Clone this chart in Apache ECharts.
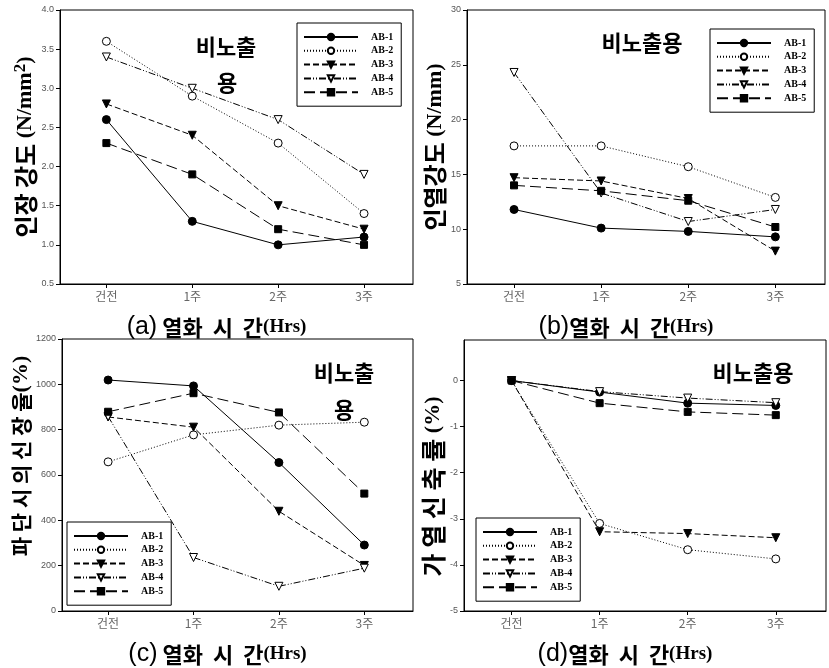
<!DOCTYPE html>
<html><head><meta charset="utf-8">
<script src="https://cdn.jsdelivr.net/npm/echarts@6/dist/echarts.min.js"></script>
<style>html,body{margin:0;padding:0;background:#fff}#c{width:829px;height:668px}</style>
</head><body><div id="c"></div>
<script>
const categories = ['건전', '1주', '2주', '3주'];
const seriesNames = ['AB-1', 'AB-2', 'AB-3', 'AB-4', 'AB-5'];
// (a) 인장 강도 (N/mm2)
const tensileStrength = [
  [2.6, 1.3, 1.0, 1.1],
  [3.6, 2.9, 2.3, 1.4],
  [2.8, 2.4, 1.5, 1.2],
  [3.4, 3.0, 2.6, 1.9],
  [2.3, 1.9, 1.2, 1.0]
];
// (b) 인열강도 (N/mm)
const tearStrength = [
  [11.8, 10.1, 9.8, 9.3],
  [17.6, 17.6, 15.7, 12.9],
  [14.7, 14.4, 12.8, 8.0],
  [24.3, 13.3, 10.7, 11.8],
  [14.0, 13.5, 12.6, 10.2]
];
// (c) 파단시의 신장율 (%)
const elongation = [
  [1019, 993, 655, 291],
  [658, 777, 820, 833],
  [856, 811, 440, 201],
  [858, 236, 109, 189],
  [879, 961, 876, 518]
];
// (d) 가열신축률 (%)
const shrinkage = [
  [0, -0.25, -0.49, -0.54],
  [0, -3.10, -3.67, -3.87],
  [0, -3.28, -3.32, -3.41],
  [0, -0.24, -0.38, -0.48],
  [0, -0.49, -0.68, -0.75]
];

const symbols = ['circle', 'circle', 'triangle', 'triangle', 'rect'];
const rotates = [0, 0, 180, 180, 0];
const filled = [true, false, true, false, true];
const dashes = ['solid', [1, 2], [6, 3], [7, 2, 1, 2, 1, 2], [11, 5]];

const grids = [
  {left: 60, top: 10, width: 353, height: 274},
  {left: 467, top: 10, width: 358, height: 274},
  {left: 62, top: 339, width: 351, height: 274},
  {left: 464, top: 340, width: 362, height: 274}
];

const tickFont = 'Liberation Sans, Arial, sans-serif';
const korFont = '"Noto Sans CJK KR", sans-serif';
const serif = '"Liberation Serif", serif';

function xAxis(i, label) {
  return {
    type: 'value', gridIndex: i, min: -0.54, max: 3.57,
    axisLine: {onZero: false, lineStyle: {color: '#000'}},
    axisTick: {customValues: [0, 1, 2, 3], length: 4, lineStyle: {color: '#000'}},
    axisLabel: {customValues: [0, 1, 2, 3], formatter: v => categories[Math.round(v)],
      color: '#666', fontSize: 12, fontFamily: korFont, margin: 6},
    splitLine: {show: false},
    name: label,
    nameLocation: 'middle', nameGap: 31,
    nameTextStyle: {padding: [0, 40, 0, 0], rich: {
      p: {fontFamily: tickFont, fontSize: 25, color: '#000'},
      k: {fontFamily: korFont, fontSize: 22, fontWeight: 'bold', color: '#000'},
      h: {fontFamily: serif, fontSize: 19, fontWeight: 'bold', color: '#000'}
    }}
  };
}

function yAxis(i, min, max, ticks, name, gap, fmt, pad) {
  return {
    type: 'value', gridIndex: i, min: min, max: max,
    axisLine: {show: true, onZero: false, lineStyle: {color: '#000'}},
    axisTick: {show: true, customValues: ticks, length: 4, lineStyle: {color: '#000'}},
    axisLabel: {customValues: ticks, formatter: fmt, color: '#555', fontSize: 9, fontFamily: tickFont, margin: 6},
    splitLine: {show: false},
    name: name, nameLocation: 'middle', nameRotate: 90, nameGap: gap,
    nameTextStyle: {padding: pad, rich: {
      k: {fontFamily: korFont, fontSize: 24, fontWeight: 'bold', color: '#000'},
      d: {fontFamily: korFont, fontSize: 25, fontWeight: 'bold', color: '#000'},
      c: {fontFamily: korFont, fontSize: 21, fontWeight: 'bold', color: '#000'},
      s: {fontFamily: serif, fontSize: 22, fontWeight: 'bold', color: '#000'},
      sup: {fontFamily: serif, fontSize: 17, fontWeight: 'bold', color: '#000', padding: [0, 0, 10, 0]}
    }}
  };
}

function range(a, b, s) { const r = []; for (let v = a; v <= b + 1e-9; v += s) r.push(+v.toFixed(3)); return r; }

const panels = [tensileStrength, tearStrength, elongation, shrinkage];
const series = [];
panels.forEach((data, gi) => {
  data.forEach((vals, si) => {
    series.push({
      type: 'line', name: seriesNames[si], xAxisIndex: gi, yAxisIndex: gi,
      data: vals.map((v, k) => [k, v]),
      symbol: symbols[si], symbolRotate: rotates[si], symbolSize: symbols[si] === 'rect' ? 7 : 8,
      lineStyle: {color: '#000', width: 1, type: dashes[si]},
      itemStyle: {color: filled[si] ? '#000' : '#fff', borderColor: '#000', borderWidth: 1},
      emphasis: {disabled: true}, animation: false
    });
  });
});

const legendPos = [
  {left: 297, top: 23},
  {left: 710, top: 29},
  {left: 67, top: 522},
  {left: 476, top: 518}
];
const legends = legendPos.map(p => ({
  left: p.left, top: p.top, orient: 'vertical', data: seriesNames,
  itemWidth: 54, itemHeight: 8, itemGap: 3.8,
  padding: [9, 8, 9, 6], borderColor: '#000', borderWidth: 1, backgroundColor: '#fff',
  textStyle: {fontFamily: serif, fontWeight: 'bold', fontSize: 10, color: '#000', padding: [0, 0, 0, 8]},
  selectedMode: false
}));

const annot = [
  {x: 226, y: 47, t: '비노출'}, {x: 227, y: 83, t: '용'},
  {x: 642, y: 43, t: '비노출용'},
  {x: 344, y: 373, t: '비노출'}, {x: 344, y: 410, t: '용'},
  {x: 753, y: 373, t: '비노출용'}
];

const option = {
  backgroundColor: '#fff',
  animation: false,
  grid: grids.map(g => Object.assign({show: true, borderColor: '#000', borderWidth: 1, backgroundColor: 'transparent'}, g)),
  xAxis: [
    xAxis(0, '{p|(a)}{k| 열화  시  간}{h|(Hrs)}'),
    xAxis(1, '{p|(b)}{k|열화  시  간}{h|(Hrs)}'),
    xAxis(2, '{p|(c)}{k| 열화  시  간}{h|(Hrs)}'),
    xAxis(3, '{p|(d)}{k|열화  시  간}{h|(Hrs)}')
  ],
  yAxis: [
    yAxis(0, 0.5, 4.0, range(0.5, 4.0, 0.5), '{k|인장 강도 }{s|(N/mm}{sup|2}{s|)}', 20, v => v.toFixed(1), 0),
    yAxis(1, 5, 30, range(5, 30, 5), '{k|인열강도 }{s|(N/mm)}', 15, v => String(v), 0),
    yAxis(2, 0, 1200, range(0, 1200, 200), '{c|파 단 시 의 신 장 율}{s|(%)}', 24, v => String(v), [0, 0, 0, 38]),
    yAxis(3, -5, 0.88, range(-5, 0, 1), '{d|가 열 신 축 률 }{s|(%)}', 12, v => String(v), [0, 22, 0, 0])
  ],
  legend: legends,
  graphic: annot.map(a => ({
    type: 'text', x: a.x, y: a.y, z: 10,
    style: {text: a.t, fontFamily: korFont, fontSize: 22, fontWeight: 'bold', fill: '#000', align: 'center', verticalAlign: 'middle'}
  })),
  series: series
};
const chart = echarts.init(document.getElementById('c'), null, {renderer: 'canvas'});
chart.setOption(option);
</script></body></html>
